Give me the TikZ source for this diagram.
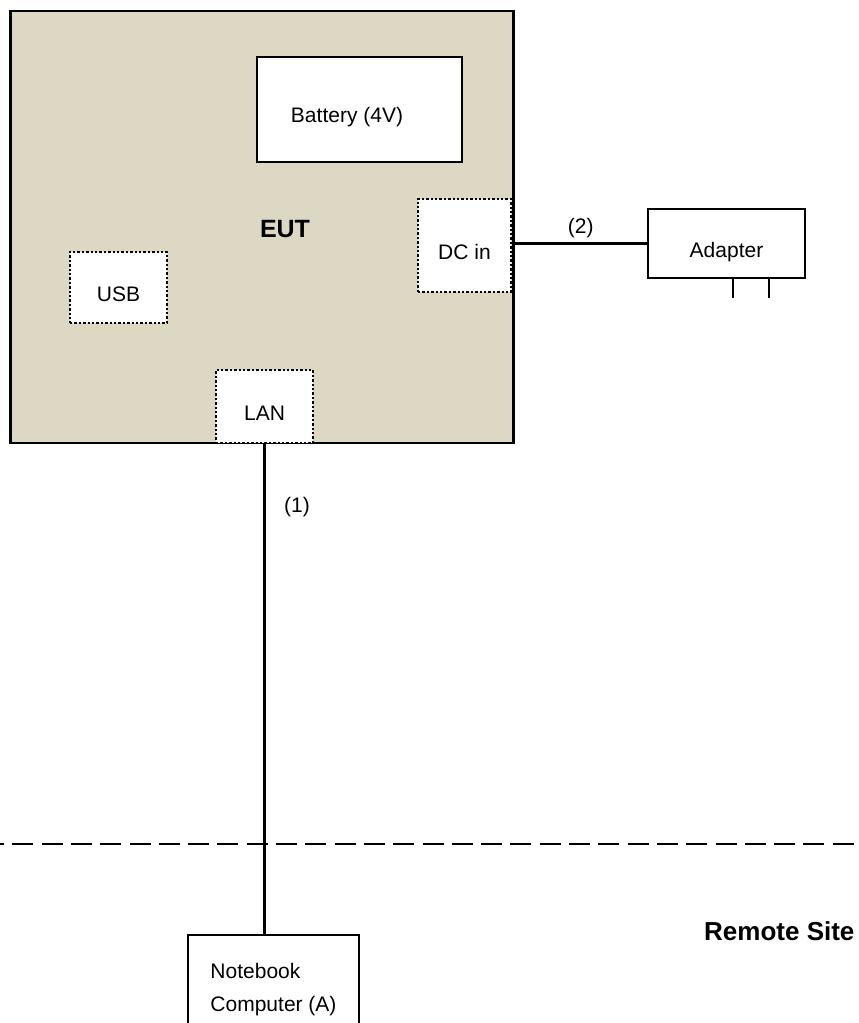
\documentclass[tikz,border=0pt]{standalone}
\usepackage{fontspec}
\setmainfont{Liberation Sans}
\usetikzlibrary{positioning,calc}
\definecolor{eutbg}{RGB}{221,216,196}
\tikzset{
  unit/.style={draw, line width=2.6pt, inner sep=0pt, align=center},
  port/.style={draw, dotted, line width=2.4pt, fill=white, inner sep=0pt, align=center,
               text depth=0pt, text height=28pt},
  cable/.style={line width=2.4pt},
  tag/.style={inner sep=0pt},
}
\begin{document}
\begin{tikzpicture}[x=1pt, y=-1pt, font=\fontsize{21}{33}\selectfont]
        \useasboundingbox (0,0) rectangle (859,1023);
        % equipment under test
        \node[unit, fill=eutbg, minimum width=503pt, minimum height=432pt] (eut) at (262,227) {};
        \node[font=\fontsize{25}{30}\selectfont\bfseries, tag] (eutlbl) at (285,229) {EUT};
        \node[unit, fill=white, minimum width=205pt, minimum height=105pt] (bat) at (359.5,109.5) {};
        \node[tag] (batlbl) at (347,117) {Battery (4V)};
        \node[port, minimum width=93pt, minimum height=93pt] (dcin) at (464.5,245.5) {DC in};
        \node[port, minimum width=97pt, minimum height=71pt] (usb) at (118.5,287.5) {USB};
        \node[port, minimum width=97pt, minimum height=73pt] (lan) at (264.5,406.5) {LAN};
        % adapter
        \node[unit, fill=white, minimum width=157pt, minimum height=69pt,
              text depth=0pt, text height=28pt] (adapter) at (726.5,243.5) {Adapter};
        \draw[cable] ($(adapter.south west)+(86,0)$) -- ++(0,19);
        \draw[cable] ($(adapter.south west)+(122,0)$) -- ++(0,19);
        \draw[cable] (eut.east |- adapter.west) -- node[tag, above=4pt] (c2) {(2)} (adapter.west);
        % site boundary
        \coordinate (bl) at (0,844);
        \coordinate (br) at (859,844);
        \draw[line width=2.6pt, dash pattern=on 21pt off 8.3pt, dash phase=17pt] (bl) -- (br);
        \node[font=\fontsize{26}{30}\selectfont\bfseries, tag, anchor=west] (remote) at (704,931) {Remote Site};
        % notebook
        \node[unit, fill=white, minimum width=171pt, minimum height=110pt, align=left] (nb) at (273.5,990) {Notebook\\Computer (A)};
        \draw[cable] (lan.south) -- (lan.south |- nb.north);
        \node[tag] (c1) at (297,507) {(1)};
\end{tikzpicture}
\end{document}
